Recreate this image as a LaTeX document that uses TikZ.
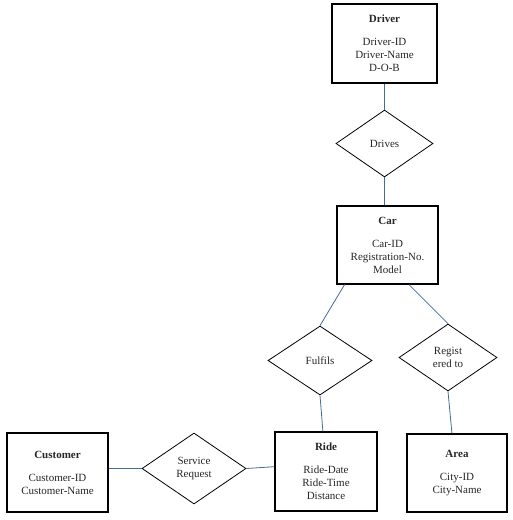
\documentclass[tikz,border=0pt]{standalone}
\usepackage{fontspec}
\setmainfont{Liberation Serif}
\usetikzlibrary{shapes.geometric,calc}
\definecolor{linkblue}{RGB}{72,106,155}
\begin{document}
\begin{tikzpicture}[x=1pt,y=-1pt,
  entity/.style={draw=black,line width=1.1pt,rectangle,inner sep=0pt,align=center,
    font=\fontsize{11}{13}\selectfont,text=black!85},
  rel/.style={draw=black,line width=0.8pt,diamond,inner sep=0pt,align=center,
    font=\fontsize{11}{12.5}\selectfont,text=black!85},
  link/.style={draw=linkblue,line width=0.8pt}]
\useasboundingbox (0,0) rectangle (513,520);
\node[entity,minimum width=105pt,minimum height=79pt] (Driver) at (384.5,43.5)
  {\textbf{Driver}\\[10pt]Driver-ID\\Driver-Name\\D-O-B};
\node[rel,minimum width=97pt,minimum height=67pt] (Drives) at (384.5,143.5) {Drives};
\node[entity,minimum width=101pt,minimum height=78pt] (Car) at (387.5,245)
  {\textbf{Car}\\[10pt]Car-ID\\Registration-No.\\Model};
\node[rel,minimum width=104pt,minimum height=69pt] (Fulfils) at (320,360.5) {Fulfils};
\node[rel,minimum width=98pt,minimum height=67pt] (Regist) at (448,357.5) {Regist\\ered to};
\node[entity,minimum width=101pt,minimum height=79pt] (Customer) at (57.5,472.5)
  {\textbf{Customer}\\[10pt]Customer-ID\\Customer-Name};
\node[rel,minimum width=104pt,minimum height=71pt] (Service) at (194,468.5) {Service\\Request};
\node[entity,minimum width=102pt,minimum height=79pt] (Ride) at (326,471.5)
  {\textbf{Ride}\\[10pt]Ride-Date\\Ride-Time\\Distance};
\node[entity,minimum width=100pt,minimum height=78pt] (Area) at (457,473)
  {\textbf{Area}\\[10pt]City-ID\\City-Name};
\draw[link] (Driver.south) -- (Drives.north);
\draw[link] (Drives.south) -- (Drives.south |- Car.north);
\draw[link] ($(Car.south west)!0.08!(Car.south east)$) -- (Fulfils.north);
\draw[link] ($(Car.south west)!0.71!(Car.south east)$) -- (Regist.north);
\draw[link] (Fulfils.south) -- ($(Ride.north west)!0.47!(Ride.north east)$);
\draw[link] (Regist.south) -- ($(Area.north west)!0.45!(Area.north east)$);
\draw[link] (Customer.east |- Service.west) -- (Service.west);
\draw[link] (Service.east) -- ($(Ride.north west)!0.44!(Ride.south west)$);
\end{tikzpicture}
\end{document}
